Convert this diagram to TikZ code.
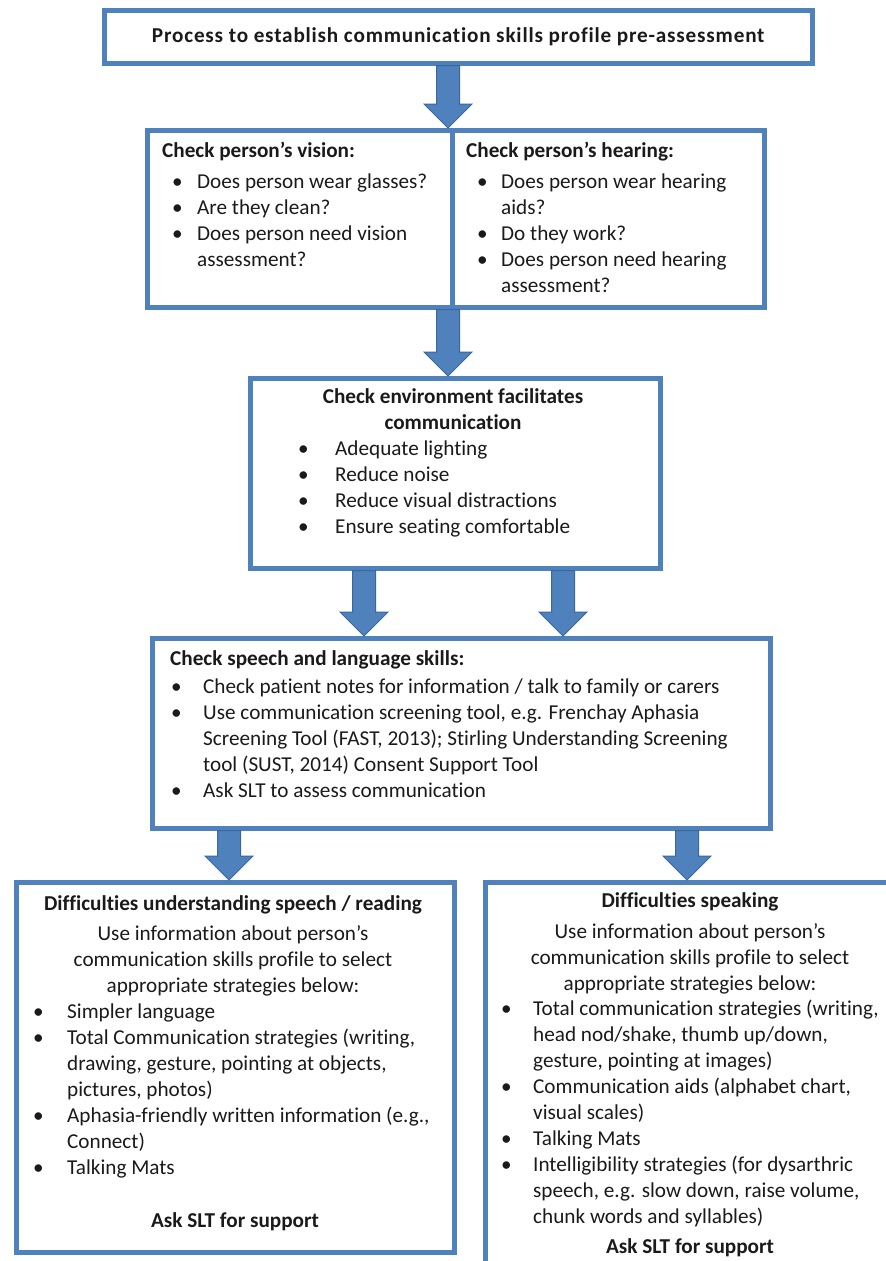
\documentclass[tikz,border=0pt]{standalone}
\usepackage{fontspec}
\setmainfont{Carlito}[Ligatures={NoCommon}]
\usetikzlibrary{calc}

\definecolor{boxblue}{HTML}{4F81BD}
\definecolor{arrowedge}{HTML}{3A679C}
\definecolor{ink}{HTML}{1A1A1A}

\newlength\bulind
\newcommand\setind[1]{\global\bulind=#1\relax}
\newcommand\bl{\makebox[\bulind][l]{\textbullet}}
\newcommand\cont{\hspace*{\bulind}}
\newcommand\bodyfont{\fontsize{21.2}{26}\selectfont}

% block arrow pointing down from #1 to #2
\newcommand\flowarrow[2]{%
  \filldraw[fat] ($#1+(-11.5,0)$) -- ($#2+(-11.5,-24)$) -- ($#2+(-24,-24)$)
    -- #2 -- ($#2+(24,-24)$) -- ($#2+(11.5,-24)$) -- ($#1+(11.5,0)$) -- cycle;}

\tikzset{
  box/.style={draw=boxblue, line width=4.5pt, anchor=north west, inner sep=0pt},
  basefont/.style={font=\bodyfont, text=ink},
  boldfont/.style={font=\bodyfont\bfseries, text=ink},
  txt/.style={basefont, anchor=north west, inner sep=0pt, align=left},
  btxt/.style={boldfont, anchor=north west, inner sep=0pt, align=left},
  ctxt/.style={basefont, anchor=north, inner sep=0pt, align=center},
  cbtxt/.style={boldfont, anchor=north, inner sep=0pt, align=center},
  fat/.style={fill=boxblue, draw=arrowedge, line width=1pt, line join=miter},
}

\begin{document}
\begin{tikzpicture}[x=1pt, y=-1pt]
\useasboundingbox (0,0) rectangle (886,1261);
\begin{scope}
\clip (0,0) rectangle (886,1261);

% x positions of the arrows
\coordinate (ax1) at (448,0);
\coordinate (ax2) at (364,0);
\coordinate (ax3) at (563,0);
\coordinate (ax4) at (229,0);
\coordinate (ax5) at (687,0);

% boxes
\node[box, minimum width=708pt, minimum height=53pt, font=\bodyfont\bfseries\addfontfeatures{LetterSpace=3.8}, text=ink] (title) at (102,8)
  {Process to establish communication skills profile pre-assessment};
\node[box, minimum width=305pt, minimum height=177pt] (vision) at (145,128) {};
\node[box, minimum width=312pt, minimum height=177pt] (hearing) at (450,128) {};
\node[box, minimum width=410pt, minimum height=190pt] (env) at (248,376) {};
\node[box, minimum width=618pt, minimum height=190pt] (speech) at (150,636) {};
\node[box, minimum width=438pt, minimum height=370pt] (underst) at (14,880) {};
\node[box, minimum width=430pt, minimum height=400pt] (speak) at (483,880) {};

% connectors
\flowarrow{(title.south -| ax1)}{(vision.north -| ax1)}
\flowarrow{(vision.south -| ax1)}{(env.north -| ax1)}
\flowarrow{(env.south -| ax2)}{(speech.north -| ax2)}
\flowarrow{(env.south -| ax3)}{(speech.north -| ax3)}
\flowarrow{(speech.south -| ax4)}{(underst.north -| ax4)}
\flowarrow{(speech.south -| ax5)}{(speak.north -| ax5)}

% vision
\node[btxt] (visionhead) at (162,139) {\strut Check person’s vision:};
\node[txt] (visionlist) at (172,170) {\setind{25pt}\strut\bl Does person wear glasses?\\
  \bl Are they clean?\\
  \bl Does person need vision\\
  \cont assessment?};

% hearing
\node[btxt] (hearinghead) at (466,139) {\strut Check person’s hearing:};
\node[txt] (hearinglist) at (477,170) {\setind{24pt}\strut\bl Does person wear hearing\\
  \cont aids?\\
  \bl Do they work?\\
  \bl Does person need hearing\\
  \cont assessment?};

% environment
\node[cbtxt] (envhead) at (453,385) {\strut Check environment facilitates\\ communication};
\node[txt] (envlist) at (298,437) {\setind{37pt}\strut\bl Adequate lighting\\
  \bl Reduce noise\\
  \bl Reduce visual distractions\\
  \bl Ensure seating comfortable};

% speech and language
\node[btxt] (speechhead) at (170,647) {\strut Check speech and language skills:};
\node[txt] (speechlist) at (171,675) {\setind{32pt}\strut\bl Check patient notes for information / talk to family or carers\\
  \bl Use communication screening tool, e.g. Frenchay Aphasia\\
  \cont Screening Tool (FAST, 2013); Stirling Understanding Screening\\
  \cont tool (SUST, 2014) Consent Support Tool\\
  \bl Ask SLT to assess communication};

% understanding
\node[cbtxt] (understhead) at (233,892) {\strut Difficulties understanding speech / reading};
\node[ctxt] (understintro) at (233,922) {\strut Use information about person’s\\ communication skills profile to select\\ appropriate strategies below:};
\node[txt] (understlist) at (33,1000) {\setind{34pt}\strut\bl Simpler language\\
  \bl Total Communication strategies (writing,\\
  \cont drawing, gesture, pointing at objects,\\
  \cont pictures, photos)\\
  \bl Aphasia-friendly written information (e.g.,\\
  \cont Connect)\\
  \bl Talking Mats};
\node[cbtxt] (understslt) at (235,1209) {\strut Ask SLT for support};

% speaking
\node[cbtxt] (speakhead) at (690,889) {\strut Difficulties speaking};
\node[ctxt] (speakintro) at (690,920) {\strut Use information about person’s\\ communication skills profile to select\\ appropriate strategies below:};
\node[txt] (speaklist) at (501,997) {\setind{32pt}\strut\bl Total communication strategies (writing,\\
  \cont head nod/shake, thumb up/down,\\
  \cont gesture, pointing at images)\\
  \bl Communication aids (alphabet chart,\\
  \cont visual scales)\\
  \bl Talking Mats\\
  \bl Intelligibility strategies (for dysarthric\\
  \cont speech, e.g. slow down, raise volume,\\
  \cont chunk words and syllables)};
\node[cbtxt] (speakslt) at (690,1235) {\strut Ask SLT for support};

\end{scope}
\end{tikzpicture}
\end{document}
